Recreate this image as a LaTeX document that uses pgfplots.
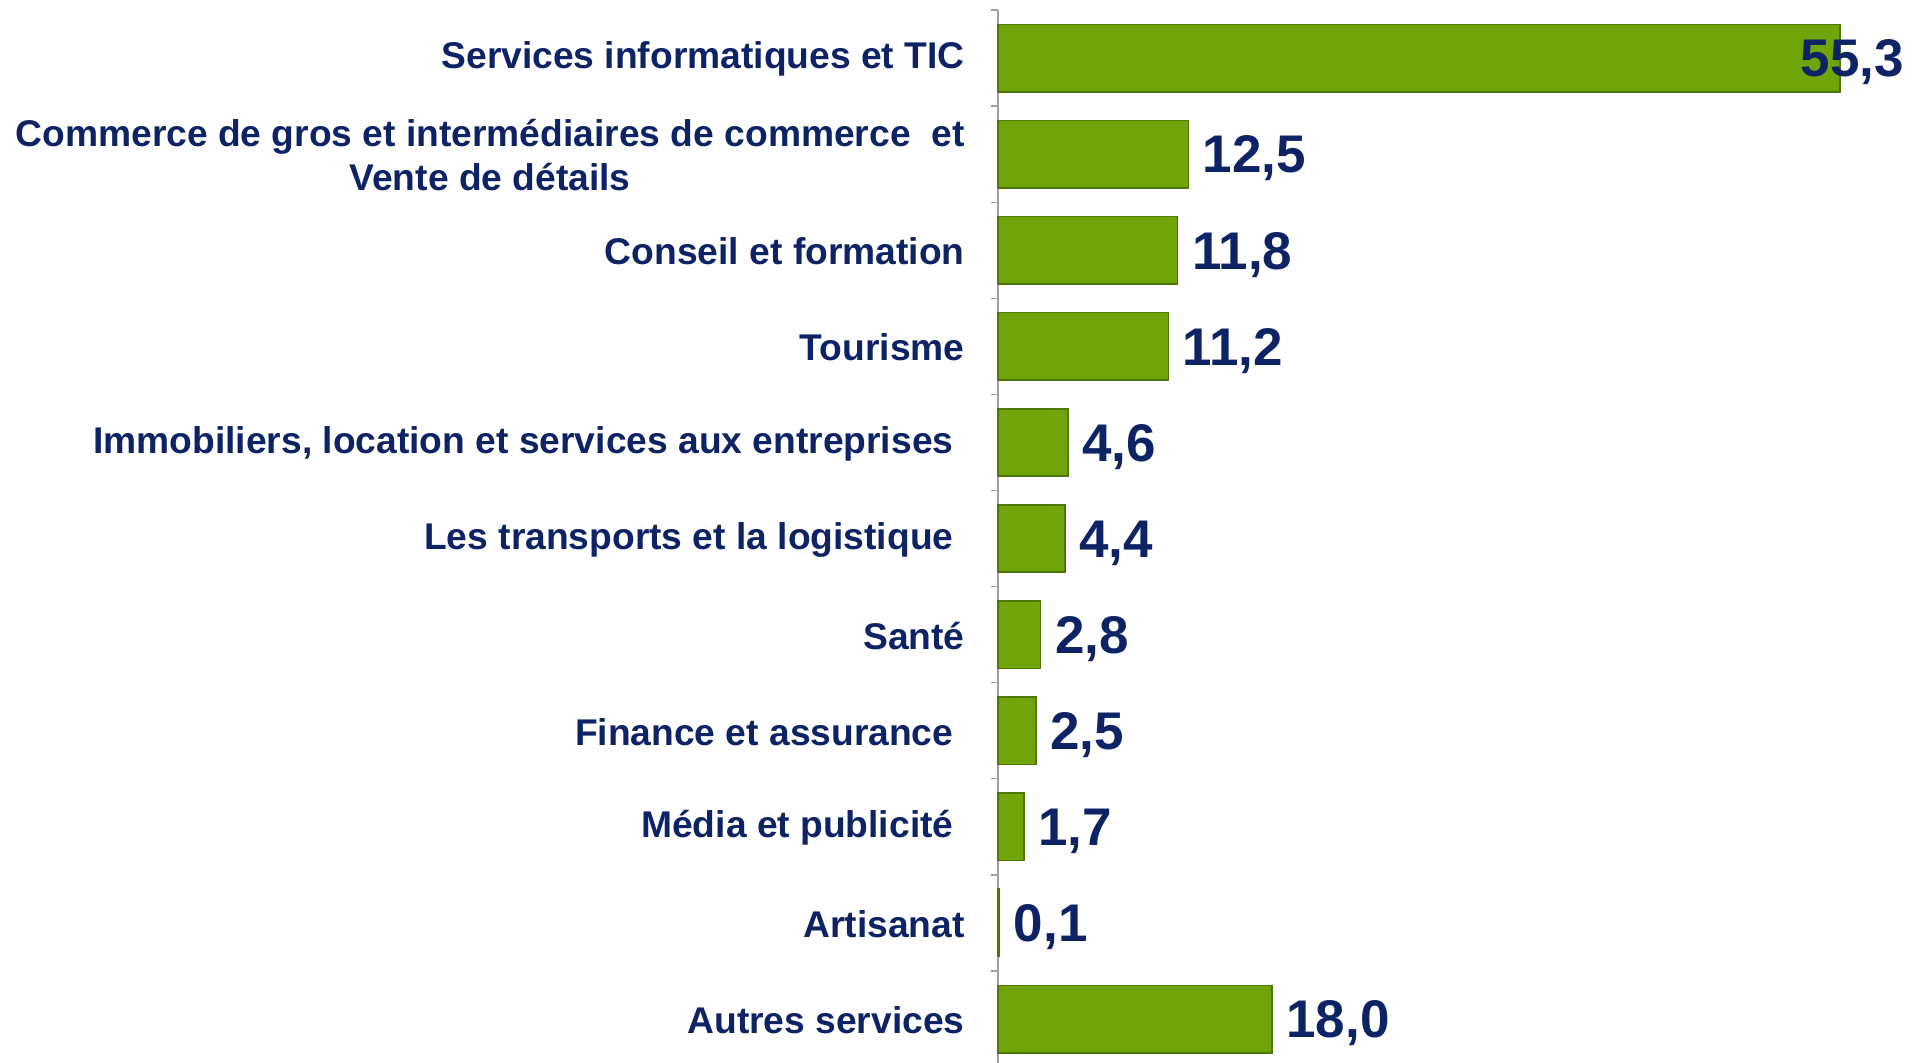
\documentclass[border=0pt]{standalone}
\usepackage{fontspec}
\setmainfont{Liberation Sans}
\usepackage{pgfplots}
\pgfplotsset{compat=1.18}
\definecolor{navy}{RGB}{14,35,102}
\definecolor{barg}{RGB}{112,164,8}
\definecolor{bard}{RGB}{78,118,6}
\definecolor{axg}{RGB}{160,160,160}
\begin{document}
\begin{tikzpicture}
\begin{axis}[
 at={(0,0)}, anchor=south west,
 scale only axis, width=456.9pt, height=526.5pt,
 xmin=0, xmax=60, ymin=-0.457, ymax=10.5,
 axis x line=none, axis y line=left,
 y axis line style={-, draw=axg, line width=0.6pt},
 ytick={0,1,2,3,4,5,6,7,8,9,10},
 yticklabels={Autres services,Artisanat,Média et publicité\kern0.3em,Finance et assurance\kern0.3em,Santé,Les transports et la logistique\kern0.3em,Immobiliers{,} location et services aux entreprises\kern0.3em,Tourisme,Conseil et formation,{Commerce de gros et intermédiaires de commerce\ \ et\\Vente de détails},Services informatiques et TIC},
 major tick length=0pt,
 minor ytick={0.5,1.5,2.5,3.5,4.5,5.5,6.5,7.5,8.5,9.5,10.5},
 minor tick length=3.5pt,
 tick align=outside,
 tick style={draw=axg, line width=0.6pt},
 yticklabel style={font=\fontsize{18.6}{22}\selectfont\bfseries, text=navy, align=center, inner sep=0pt, xshift=-16.5pt, yshift=-0.5pt},
 clip=false,
]
\addplot[xbar, bar width=33.7pt, bar shift=0pt, fill=barg, draw=bard, line width=0.8pt]
 coordinates {(18,0) (0.1,1) (1.7,2) (2.5,3) (2.8,4) (4.4,5) (4.6,6) (11.2,7) (11.8,8) (12.5,9) (55.3,10)};
\addplot[draw=none, mark=none, point meta=x,
 nodes near coords={\pgfmathprintnumber[fixed,fixed zerofill,precision=1,use comma,assume math mode=true]{\pgfplotspointmeta}},
 every node near coord/.style={anchor=west, xshift=7pt, yshift=-2.2pt, inner sep=0pt, font=\fontsize{26.5}{30}\selectfont\bfseries, text=navy}]
 coordinates {(18,0) (0.1,1) (1.7,2) (2.5,3) (2.8,4) (4.4,5) (4.6,6) (11.2,7) (11.8,8) (12.5,9)};
\addplot[draw=none, mark=none, point meta=x,
 nodes near coords={\pgfmathprintnumber[fixed,fixed zerofill,precision=1,use comma,assume math mode=true]{\pgfplotspointmeta}},
 every node near coord/.style={anchor=west, xshift=-20pt, yshift=-2.2pt, inner sep=0pt, font=\fontsize{26.5}{30}\selectfont\bfseries, text=navy}]
 coordinates {(55.3,10)};
\end{axis}
\pgfresetboundingbox
\useasboundingbox (-499pt,0pt) rectangle (463pt,531.5pt);
\end{tikzpicture}
\end{document}
